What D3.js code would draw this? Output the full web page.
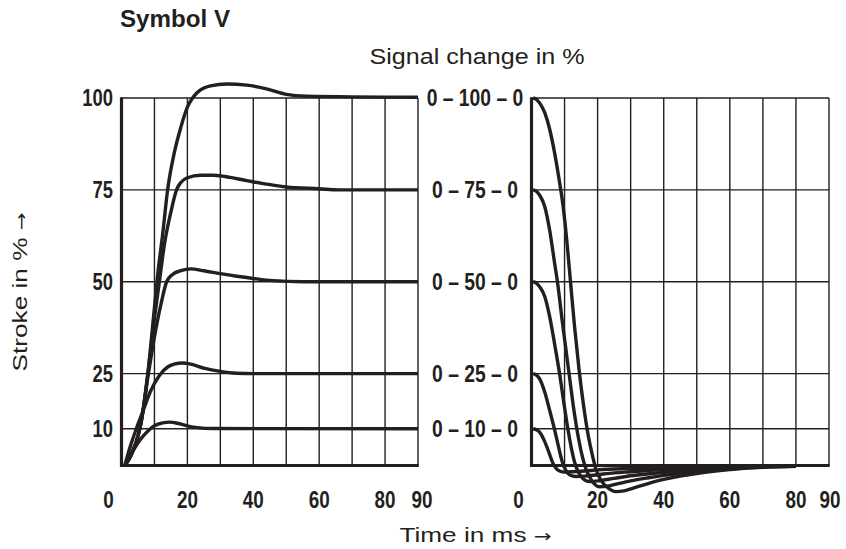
<!DOCTYPE html>
<html>
<head>
<meta charset="utf-8">
<script src="https://cdn.jsdelivr.net/npm/d3@7"></script>
<style>
  body { margin: 0; background: #fff; }
  text { fill: #231f20; }
</style>
</head>
<body>
<svg id="chart" width="846" height="549"></svg>
<script>
// tick values and labels
const timeTicks = [0, 20, 40, 60, 80, 90];
const gridTimes = [10, 20, 30, 40, 50, 60, 70, 80, 90];
const strokeTicks = [10, 25, 50, 75, 100];
const levelLabels = ['0 – 10 – 0', '0 – 25 – 0', '0 – 50 – 0', '0 – 75 – 0', '0 – 100 – 0'];

// step up: [time ms, stroke %]
const rise100 = [[1,0],[3,3],[5,8],[6,12],[8,25],[10,43],[11,52],[12.5,63],[14,75],[16,85],[18,92],[20,97.5],[23,101.5],[27,103.3],[32,103.8],[38,103.5],[44,102.5],[50,101],[56,100.5],[90,100.2]];
const rise75 = [[1,0],[3,3],[5,8],[6,12],[8,25],[10,40],[11.5,50],[13,60],[15,69],[16.7,75],[18,77],[20,78.3],[24,79],[28,79],[33,78.4],[38,77.5],[43,76.7],[50,75.8],[60,75.3],[66,75],[90,75]];
const rise50 = [[1,0],[3,3],[5,8],[6,12],[8,24],[10,35],[12,44],[13.7,50],[15.5,52],[18,53],[21,53.5],[25,53],[30,52.2],[35,51.5],[40,50.9],[46,50.3],[55,50],[90,50]];
const rise25 = [[1,0],[2.6,5],[4.5,10],[6.6,15],[8.7,20],[11.5,24.5],[14,26.8],[16,27.6],[18.5,27.9],[21,27.6],[25,26.5],[30,25.6],[35,25.1],[40,25],[90,25]];
const rise10 = [[1,0],[2,1.5],[3.5,4],[5.5,6.8],[7.6,9],[10,10.8],[12.5,11.6],[14.7,11.8],[17,11.5],[20,10.8],[23,10.3],[28,10.05],[90,10]];

// step back down: [time ms, stroke %]
const fall100 = [[0.5,100],[1.5,99.6],[2.5,98.6],[4,96],[5.5,91.5],[7,85],[8.5,77],[9.5,71],[10.7,61],[11.8,50],[13,38],[14.4,26],[15.8,16],[17.2,8],[18.5,2.5],[19.5,-1],[21,-4],[23,-6],[25.5,-7.1],[28,-6.9],[31,-6.1],[35,-5],[40,-3.8],[45,-2.9],[50,-2.2],[55,-1.6],[60,-1.1],[70,-0.5],[80,-0.2]];
const fall75 = [[0.5,75],[1.5,74.6],[2.5,73.5],[4,70.5],[5.5,64],[7,55],[8,49],[9.2,40],[10.5,31],[11.8,22],[13,14],[14.3,7],[15.5,2],[16.5,-1],[18,-3.8],[20.5,-5.8],[23,-5.6],[26,-5],[30,-4.2],[35,-3.4],[40,-2.7],[50,-1.7],[60,-0.9],[70,-0.4],[80,-0.2]];
const fall50 = [[0.5,50],[1.5,49.6],[2.5,48.6],[4,46],[5.5,40.5],[7,33],[8.5,25],[9.8,17],[11,10],[12,5],[13,1],[14,-1.5],[15.5,-3.5],[17.5,-4.4],[20,-4.2],[25,-3.5],[30,-2.8],[35,-2.3],[40,-1.9],[50,-1.2],[60,-0.7],[70,-0.3],[80,-0.1]];
const fall25 = [[0.5,25],[1.5,24.6],[2.5,23.5],[4,20],[5.5,15],[7,9.7],[8.2,5],[9.3,1],[10.3,-1.2],[11.5,-2.5],[13.5,-3],[16,-2.9],[20,-2.5],[25,-2],[30,-1.7],[40,-1.1],[50,-0.7],[60,-0.4],[70,-0.2],[80,-0.1]];
const fall10 = [[0.5,10],[1.5,9.7],[2.5,9],[4,6.5],[5.3,3.5],[6.3,1],[7.3,-0.6],[8.5,-1.5],[10,-1.8],[12,-1.7],[16,-1.5],[20,-1.2],[30,-0.8],[40,-0.5],[50,-0.3],[60,-0.2],[80,-0.05]];

const ink = '#231f20';
const sans = 'Liberation Sans, Arial, sans-serif';
const svg = d3.select('#chart');

const y = d3.scaleLinear().domain([0, 100]).range([465.5, 98]);
const xL = d3.scaleLinear().domain([0, 90]).range([121.5, 418]);
const xR = d3.scaleLinear().domain([0, 90]).range([531.5, 829]);

// squeeze text to look like a narrow bold face
function squeeze(sel, k) {
    sel.each(function() {
        const w = this.getComputedTextLength();
        d3.select(this).attr('textLength', w * k).attr('lengthAdjust', 'spacingAndGlyphs');
    });
}

function panel(x, curves, lastShift) {
    const g = svg.append('g');
    // vertical grid
    g.selectAll('line.v').data(gridTimes).join('line')
        .attr('x1', d => x(d)).attr('x2', d => x(d))
        .attr('y1', y(0)).attr('y2', y(100))
        .attr('stroke', ink).attr('stroke-width', 1.4);
    // horizontal grid
    g.selectAll('line.h').data(strokeTicks).join('line')
        .attr('x1', x(0)).attr('x2', x(90))
        .attr('y1', d => y(d)).attr('y2', d => y(d))
        .attr('stroke', ink).attr('stroke-width', 1.4);
    // heavy axes
    g.append('line').attr('x1', x(0)).attr('x2', x(0)).attr('y1', y(0) + 1.5).attr('y2', y(100) - 0.7)
        .attr('stroke', ink).attr('stroke-width', 3.2);
    g.append('line').attr('x1', x(0) - 1.5).attr('x2', x(90) + 0.7).attr('y1', y(0)).attr('y2', y(0))
        .attr('stroke', ink).attr('stroke-width', 3.2);

    const line = d3.line().x(d => x(d[0])).y(d => y(d[1])).curve(d3.curveMonotoneX);
    g.selectAll('path.c').data(curves).join('path')
        .attr('d', line)
        .attr('fill', 'none').attr('stroke', ink).attr('stroke-width', 3.4)
        .attr('stroke-linejoin', 'round');

    // time tick labels
    const t = g.selectAll('text.t').data(timeTicks).join('text')
        .attr('x', d => x(d) + (d === 0 ? -13 : d === 90 ? lastShift : 0))
        .attr('y', 508)
        .attr('text-anchor', 'middle')
        .attr('font-family', sans)
        .attr('font-weight', 'bold').attr('font-size', 23)
        .text(d => d);
    squeeze(t, 0.82);
}

panel(xL, [rise100, rise75, rise50, rise25, rise10], 4);
panel(xR, [fall100, fall75, fall50, fall25, fall10], 1);

// stroke labels on the left
const sl = svg.selectAll('text.s').data(strokeTicks).join('text')
    .attr('x', 113).attr('y', d => y(d)).attr('dy', '0.36em')
    .attr('text-anchor', 'end')
    .attr('font-family', sans)
    .attr('font-weight', 'bold').attr('font-size', 23)
    .text(d => d);
squeeze(sl, 0.8);

// signal change labels between the panels
const ll = svg.selectAll('text.l').data(levelLabels).join('text')
    .attr('x', 475).attr('y', (d, i) => y(strokeTicks[i])).attr('dy', '0.36em')
    .attr('text-anchor', 'middle')
    .attr('font-family', sans)
    .attr('font-weight', 'bold').attr('font-size', 23)
    .text(d => d);
squeeze(ll, 0.84);

// titles
svg.append('text').attr('x', 120).attr('y', 27)
    .attr('font-family', sans)
    .attr('font-weight', 'bold').attr('font-size', 23)
    .attr('textLength', 110).attr('lengthAdjust', 'spacingAndGlyphs')
    .text('Symbol V');

svg.append('text').attr('x', 477).attr('y', 64)
    .attr('text-anchor', 'middle')
    .attr('font-family', sans)
    .attr('font-size', 22)
    .attr('textLength', 215).attr('lengthAdjust', 'spacingAndGlyphs')
    .text('Signal change in %');

const tl = svg.append('text').attr('x', 475.5).attr('y', 542)
    .attr('text-anchor', 'middle')
    .attr('font-family', sans)
    .attr('font-size', 21)
    .attr('textLength', 152).attr('lengthAdjust', 'spacingAndGlyphs');
tl.append('tspan').text('Time in ms ');
tl.append('tspan').attr('font-family', 'DejaVu Sans').attr('font-size', 17).text('→');

const st = svg.append('text')
    .attr('transform', 'translate(27,292) rotate(-90)')
    .attr('text-anchor', 'middle')
    .attr('font-family', sans)
    .attr('font-size', 21)
    .attr('textLength', 159).attr('lengthAdjust', 'spacingAndGlyphs');
st.append('tspan').text('Stroke in % ');
st.append('tspan').attr('font-family', 'DejaVu Sans').attr('font-size', 17).text('→');
</script>
</body>
</html>
